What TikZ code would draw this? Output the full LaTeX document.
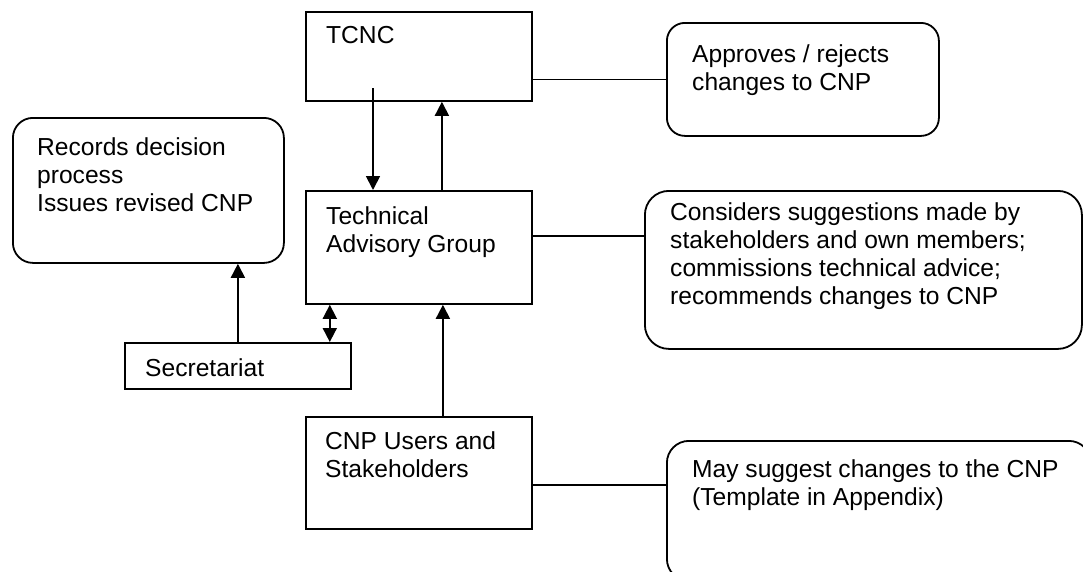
\documentclass[tikz,border=0pt]{standalone}
\usepackage{fontspec}
\setmainfont{Liberation Sans}
\usetikzlibrary{arrows.meta}
\begin{document}
\begin{tikzpicture}[x=1pt,y=-1pt,
  box/.style={draw, line width=1.8pt, rectangle, inner sep=0pt, anchor=north west},
  rbox/.style={box, rounded corners=20pt},
  txt/.style={anchor=base west, inner sep=0pt, font=\fontsize{24.6}{28}\selectfont, align=left},
  arr/.style={line width=1.8pt, -{Triangle[length=14pt,width=14pt]}},
  darr/.style={line width=1.8pt, {Triangle[length=14pt,width=14pt]}-{Triangle[length=14pt,width=14pt]}},
  con/.style={line width=1.8pt}]
\clip (0,0) rectangle (1083,571);
% boxes
\node[box, minimum width=226pt, minimum height=89pt] (tcnc) at (305,11) {};
\node[rbox, minimum width=272pt, minimum height=113pt, rounded corners=18pt] (app) at (666,22) {};
\node[rbox, minimum width=271pt, minimum height=145pt] (rec) at (12,117) {};
\node[box, minimum width=226pt, minimum height=113pt] (tag) at (305,190) {};
\node[rbox, minimum width=437pt, minimum height=158pt, rounded corners=24pt] (cons) at (644,190) {};
\node[box, minimum width=226pt, minimum height=46pt] (sec) at (124,342) {};
\node[box, minimum width=226pt, minimum height=112pt] (cnp) at (305,416) {};
\node[rbox, minimum width=424pt, minimum height=140pt, rounded corners=22pt] (may) at (666,440) {};
% texts (anchored at the baseline of the last line)
\node[txt] (tcncT) at (326,43) {TCNC};
\node[txt] (appT) at (692,90) {Approves / rejects\\changes to CNP};
\node[txt] (recT) at (37,211) {Records decision\\process\\Issues revised CNP};
\node[txt] (tagT) at (326,252) {Technical\\Advisory Group};
\node[txt] (consT) at (670,304) {Considers suggestions made by\\stakeholders and own members;\\commissions technical advice;\\recommends changes to CNP};
\node[txt] (secT) at (145,376) {Secretariat};
\node[txt] (cnpT) at (325,477) {CNP Users and\\Stakeholders};
\node[txt] (mayT) at (692,505) {May suggest changes to the CNP\\(Template in Appendix)};
% connectors
\draw[con] (tcnc.east |- app.west) -- (app.west);
\draw[con] ([yshift=11.5pt]tag.east) -- ([yshift=11.5pt]tag.east -| cons.west);
\draw[con] ([yshift=-12pt]cnp.east) -- ([yshift=-12pt]cnp.east -| may.west);
\coordinate (down) at (373,88);
\draw[arr] (down) -- (down |- tag.north);
\draw[arr] ([xshift=23pt]tag.north) -- ([xshift=23pt]tag.north |- tcnc.south);
\draw[arr] ([xshift=24pt]cnp.north) -- ([xshift=24pt]cnp.north |- tag.south);
\draw[darr] ([xshift=-22pt]sec.north east) -- ([xshift=-22pt]sec.north east |- tag.south);
\draw[arr] (sec.north) -- (sec.north |- rec.south);
\end{tikzpicture}
\end{document}
